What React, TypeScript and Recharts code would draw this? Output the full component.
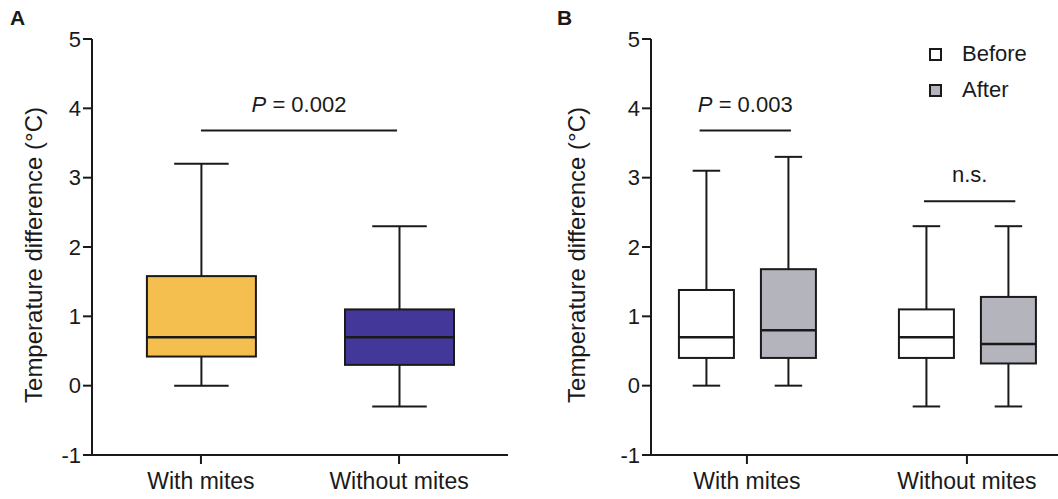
import { ComposedChart, Bar, XAxis, YAxis, ReferenceLine, Legend } from "recharts";

const CATEGORIES = ["With mites", "Without mites"];
const Y_TICKS = [-1, 0, 1, 2, 3, 4, 5];

// panel A: with vs without mites
const A_MIN = [0, -0.3];
const A_Q1 = [0.42, 0.3];
const A_MED = [0.7, 0.7];
const A_Q3 = [1.58, 1.1];
const A_MAX = [3.2, 2.3];

// panel B: before / after
const BEFORE_MIN = [0, -0.3];
const BEFORE_Q1 = [0.4, 0.4];
const BEFORE_MED = [0.7, 0.7];
const BEFORE_Q3 = [1.38, 1.1];
const BEFORE_MAX = [3.1, 2.3];

const AFTER_MIN = [0, -0.3];
const AFTER_Q1 = [0.4, 0.32];
const AFTER_MED = [0.8, 0.6];
const AFTER_Q3 = [1.68, 1.28];
const AFTER_MAX = [3.3, 2.3];

const SIG_A = { y: 3.68, from: 0, to: 0.99, text: "0.002" };
const SIG_B = [
  { y: 3.68, from: -0.215, to: 0.2, text: "0.003" },
  { y: 2.66, from: 0.805, to: 1.22, text: "n.s." },
];

const INK = "#1a1a1a";
const A_FILLS = ["#F5BF50", "#433899"];
const BEFORE_FILL = "#FFFFFF";
const AFTER_FILL = "#B4B4BC";
const FONT = "'Liberation Sans', Arial, Helvetica, sans-serif";

type Stats = { min: number[]; q1: number[]; med: number[]; q3: number[]; max: number[] };

const A_STATS: Stats = { min: A_MIN, q1: A_Q1, med: A_MED, q3: A_Q3, max: A_MAX };
const BEFORE_STATS: Stats = { min: BEFORE_MIN, q1: BEFORE_Q1, med: BEFORE_MED, q3: BEFORE_Q3, max: BEFORE_MAX };
const AFTER_STATS: Stats = { min: AFTER_MIN, q1: AFTER_Q1, med: AFTER_MED, q3: AFTER_Q3, max: AFTER_MAX };

const aData = CATEGORIES.map((name, i) => ({ x: i, name, range: [A_MIN[i], A_MAX[i]] }));
const bData = CATEGORIES.map((name, i) => ({
  x: i,
  name,
  before: [BEFORE_MIN[i], BEFORE_MAX[i]],
  after: [AFTER_MIN[i], AFTER_MAX[i]],
}));

// the bar spans min..max, everything else is placed on the same linear scale
function boxShape(s: Stats, fills: (i: number) => string) {
  return (props: any) => {
    const { x, y, width, height, index } = props;
    const lo = s.min[index];
    const hi = s.max[index];
    const px = (v: number) => y + (height * (hi - v)) / (hi - lo);
    const cx = x + width / 2;
    const cap = width / 4;
    const top = px(s.q3[index]);
    const bot = px(s.q1[index]);
    return (
      <g>
        <line x1={cx} x2={cx} y1={px(hi)} y2={px(lo)} stroke={INK} strokeWidth={2} />
        <line x1={cx - cap} x2={cx + cap} y1={px(hi)} y2={px(hi)} stroke={INK} strokeWidth={2} />
        <line x1={cx - cap} x2={cx + cap} y1={px(lo)} y2={px(lo)} stroke={INK} strokeWidth={2} />
        <rect x={x} y={top} width={width} height={bot - top} fill={fills(index)} stroke={INK} strokeWidth={2} />
        <line x1={x} x2={x + width} y1={px(s.med[index])} y2={px(s.med[index])} stroke={INK} strokeWidth={2.5} />
      </g>
    );
  };
}

const sigLabel = (text: string) => (props: any) => {
  const vb = props.viewBox;
  const cx = vb.x + vb.width / 2;
  return (
    <text x={cx} y={vb.y - 19} textAnchor="middle" fontSize={22} fill={INK} fontFamily={FONT}>
      {text === "n.s." ? (
        text
      ) : (
        <>
          <tspan fontStyle="italic">P</tspan>
          <tspan> = {text}</tspan>
        </>
      )}
    </text>
  );
};

const yLabel = (offsetX: number) => (props: any) => {
  const vb = props.viewBox;
  const lx = vb.x + offsetX;
  const ly = vb.y + vb.height / 2 + 8;
  return (
    <text
      x={lx}
      y={ly}
      transform={`rotate(-90, ${lx}, ${ly})`}
      textAnchor="middle"
      dominantBaseline="central"
      fontSize={24}
      fill={INK}
      fontFamily={FONT}
    >
      Temperature difference (°C)
    </text>
  );
};

const axisLine = { stroke: INK, strokeWidth: 2 };
const tickLine = { stroke: INK, strokeWidth: 2 };

function LegendBox() {
  const items = [
    { label: "Before", fill: BEFORE_FILL },
    { label: "After", fill: AFTER_FILL },
  ];
  return (
    <div style={{ fontFamily: FONT }}>
      {items.map((it) => (
        <div key={it.label} style={{ display: "flex", alignItems: "center", height: 36 }}>
          <div
            style={{
              width: 9,
              height: 9,
              border: `2px solid ${INK}`,
              background: it.fill,
              marginRight: 20,
            }}
          />
          <span style={{ fontSize: 22, color: INK }}>{it.label}</span>
        </div>
      ))}
    </div>
  );
}

const panelTitle = (left: number, text: string) => (
  <div
    style={{
      position: "absolute",
      left,
      top: 7,
      fontSize: 21,
      fontWeight: "bold",
      lineHeight: "21px",
      color: INK,
    }}
  >
    {text}
  </div>
);

export default function App() {
  return (
    <div
      style={{
        position: "absolute",
        left: 0,
        top: 0,
        width: 1058,
        height: 499,
        overflow: "hidden",
        background: "#fff",
        fontFamily: FONT,
      }}
    >
      {panelTitle(10, "A")}
      {panelTitle(557, "B")}

      <div style={{ position: "absolute", left: 0, top: 0 }}>
        <ComposedChart width={530} height={499} data={aData} margin={{ top: 39, right: 22, bottom: 0, left: 0 }}>
          <XAxis
            dataKey="x"
            type="number"
            domain={[-0.55, 1.55]}
            allowDataOverflow
            ticks={[0, 1]}
            tickFormatter={(v: number) => CATEGORIES[v] ?? ""}
            height={44}
            tickSize={9}
            tickMargin={9}
            axisLine={axisLine}
            tickLine={tickLine}
            tick={{ fill: INK, fontSize: 23 }}
          />
          <YAxis
            type="number"
            domain={[-1, 5]}
            ticks={Y_TICKS}
            allowDataOverflow
            width={92}
            tickSize={9}
            axisLine={axisLine}
            tickLine={tickLine}
            tick={{ fill: INK, fontSize: 22 }}
            label={{ content: yLabel(33) }}
          />
          <Bar
            dataKey="range"
            barSize={109}
            isAnimationActive={false}
            shape={boxShape(A_STATS, (i) => A_FILLS[i])}
          />
          <ReferenceLine
            segment={[
              { x: SIG_A.from, y: SIG_A.y },
              { x: SIG_A.to, y: SIG_A.y },
            ]}
            stroke={INK}
            strokeWidth={2}
            ifOverflow="visible"
            label={{ content: sigLabel(SIG_A.text) }}
          />
        </ComposedChart>
      </div>

      <div style={{ position: "absolute", left: 530, top: 0 }}>
        <ComposedChart
          width={528}
          height={499}
          data={bData}
          barGap={27}
          margin={{ top: 39, right: 0, bottom: 0, left: 0 }}
        >
          <XAxis
            dataKey="x"
            type="number"
            domain={[-0.436, 1.414]}
            allowDataOverflow
            ticks={[0, 1]}
            tickFormatter={(v: number) => CATEGORIES[v] ?? ""}
            height={44}
            tickSize={9}
            tickMargin={9}
            axisLine={axisLine}
            tickLine={tickLine}
            tick={{ fill: INK, fontSize: 23 }}
          />
          <YAxis
            type="number"
            domain={[-1, 5]}
            ticks={Y_TICKS}
            allowDataOverflow
            width={121}
            tickSize={9}
            axisLine={axisLine}
            tickLine={tickLine}
            tick={{ fill: INK, fontSize: 22 }}
            label={{ content: yLabel(46) }}
          />
          <Legend
            layout="horizontal"
            verticalAlign="middle"
            align="center"
            wrapperStyle={{ top: 36, left: 399, width: "auto" }}
            content={() => <LegendBox />}
          />
          <Bar
            dataKey="before"
            name="Before"
            barSize={55}
            isAnimationActive={false}
            shape={boxShape(BEFORE_STATS, () => BEFORE_FILL)}
          />
          <Bar
            dataKey="after"
            name="After"
            barSize={55}
            isAnimationActive={false}
            shape={boxShape(AFTER_STATS, () => AFTER_FILL)}
          />
          {SIG_B.map((s) => (
            <ReferenceLine
              key={s.text}
              segment={[
                { x: s.from, y: s.y },
                { x: s.to, y: s.y },
              ]}
              stroke={INK}
              strokeWidth={2}
              ifOverflow="visible"
              label={{ content: sigLabel(s.text) }}
            />
          ))}
        </ComposedChart>
      </div>
    </div>
  );
}
